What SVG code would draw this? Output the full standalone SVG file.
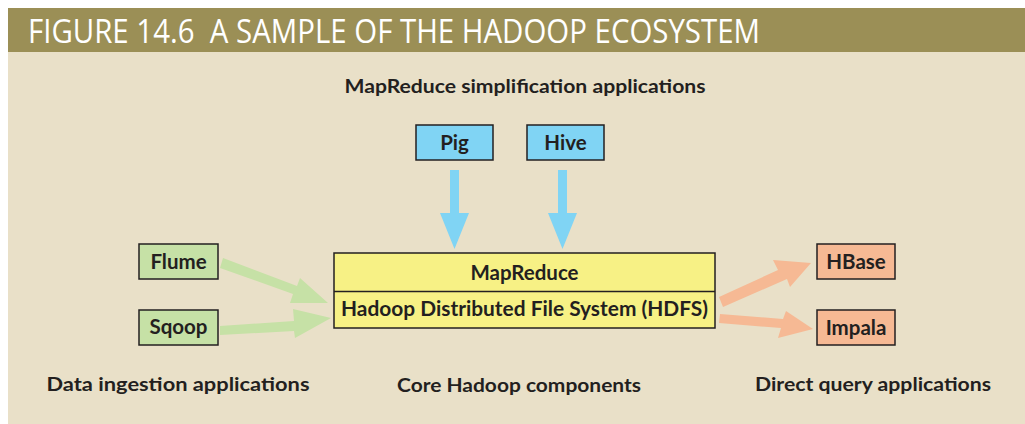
<svg xmlns="http://www.w3.org/2000/svg" width="1025" height="424" viewBox="0 0 1025 424">
<style>
.lbl{font-family:Lato,"Open Sans","Liberation Sans",sans-serif;font-weight:bold;font-size:19px;fill:#231f20;text-anchor:middle}
.bl{font-size:20.5px}
.box{stroke:#231f20;stroke-width:1.5}
.title{font-family:"Open Sans","Liberation Sans",sans-serif;font-size:32px;fill:#ffffff}
</style>
<rect x="0" y="0" width="1025" height="424" fill="#ffffff"/>
<rect x="8" y="52" width="1017" height="372" fill="#e9e0c8"/>
<rect x="8" y="8" width="1017" height="44" fill="#9b8f56"/>
<text class="title" x="28" y="43" textLength="732" lengthAdjust="spacingAndGlyphs">FIGURE 14.6&#160; A SAMPLE OF THE HADOOP ECOSYSTEM</text>

<g id="connectors">
  <polygon fill="#80d4f4" points="450,170 459,170 459,213 469,213 454.5,249 440,213 450,213"/>
  <polygon fill="#80d4f4" points="558,170 567,170 567,213 577,213 562.5,249 548,213 558,213"/>
  <polygon fill="#c6e1a6" points="223,258 220,268 293,294 290,303 328,303 300,278 297,286"/>
  <polygon fill="#c6e1a6" points="220,326 220,335 294,331 295,338 331,318 293,309 294,321"/>
  <polygon fill="#f6b994" points="719,297 723,307 787,279 790,287 811,263 773,260 778,270"/>
  <polygon fill="#f6b994" points="720,314 719,323 781,328 778,338 813,329 786,311 783,319"/>
</g>

<g id="label-mapreduce-apps"><text class="lbl" x="525" y="93" textLength="361" lengthAdjust="spacingAndGlyphs">MapReduce simplification applications</text></g>
<g id="label-ingestion"><text class="lbl" x="178" y="391" textLength="263" lengthAdjust="spacingAndGlyphs">Data ingestion applications</text></g>
<g id="label-core"><text class="lbl" x="519" y="392" textLength="244" lengthAdjust="spacingAndGlyphs">Core Hadoop components</text></g>
<g id="label-query"><text class="lbl" x="873" y="391" textLength="236" lengthAdjust="spacingAndGlyphs">Direct query applications</text></g>

<g id="pig"><rect class="box" x="416" y="125" width="77" height="35" fill="#80d4f4"/><text class="lbl bl" x="454.5" y="149.5">Pig</text></g>
<g id="hive"><rect class="box" x="527" y="125" width="77" height="35" fill="#80d4f4"/><text class="lbl bl" x="565.5" y="149.5">Hive</text></g>

<g id="core">
  <rect class="box" x="334" y="253" width="381" height="75" fill="#f7f185"/>
  <line class="box" x1="334" y1="291.5" x2="715" y2="291.5"/>
  <text class="lbl bl" x="524.5" y="279.5" textLength="108" lengthAdjust="spacingAndGlyphs">MapReduce</text>
  <text class="lbl bl" x="524.5" y="316" textLength="367" lengthAdjust="spacingAndGlyphs">Hadoop Distributed File System (HDFS)</text>
</g>

<g id="flume"><rect class="box" x="139" y="244" width="79" height="35" fill="#c6e1a6"/><text class="lbl bl" x="178.5" y="268.5">Flume</text></g>
<g id="sqoop"><rect class="box" x="139" y="310" width="79" height="35" fill="#c6e1a6"/><text class="lbl bl" x="178.5" y="333.5">Sqoop</text></g>
<g id="hbase"><rect class="box" x="817" y="244" width="78" height="35" fill="#f6b994"/><text class="lbl bl" x="856" y="268.5">HBase</text></g>
<g id="impala"><rect class="box" x="817" y="310" width="78" height="35" fill="#f6b994"/><text class="lbl bl" x="856" y="334.5">Impala</text></g>
</svg>
